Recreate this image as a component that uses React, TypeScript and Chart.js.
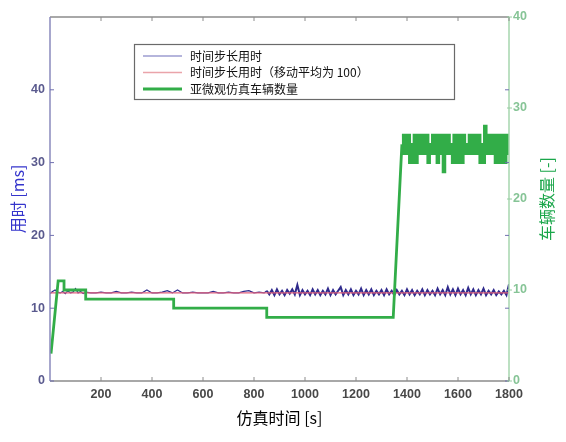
import React, { useEffect, useRef } from "react";
import { Chart, registerables } from "chart.js";

Chart.register(...registerables);

// ---- data ----
const xTickLabels = [200, 400, 600, 800, 1000, 1200, 1400, 1600, 1800];
const leftTickLabels = [0, 10, 20, 30, 40];
const rightTickLabels = [0, 10, 20, 30, 40];

const legendLabels = ["时间步长用时", "时间步长用时（移动平均为 100）", "亚微观仿真车辆数量"];

// vehicle count, piecewise part (s, count)
const vehicleTimes = [4, 32, 55, 55, 140, 140, 485, 485, 850, 850, 1346, 1380];
const vehicleCounts = [3, 11, 11, 10, 10, 9, 9, 8, 8, 7, 7, 26];

// vehicle count, fluctuating part (stepped)
const vehicleNoiseTimes = [
  1380, 1386, 1392, 1398, 1404, 1410, 1416, 1422, 1428, 1434, 1440, 1446, 1452, 1458, 1464, 1470,
  1476, 1482, 1488, 1494, 1500, 1506, 1512, 1518, 1524, 1530, 1536, 1542, 1548, 1554, 1560, 1566,
  1572, 1578, 1584, 1590, 1596, 1602, 1608, 1614, 1620, 1626, 1632, 1638, 1644, 1650, 1656, 1662,
  1668, 1674, 1680, 1686, 1692, 1698, 1704, 1710, 1716, 1722, 1728, 1734, 1740, 1746, 1752, 1758,
  1764, 1770, 1776, 1782, 1788, 1794, 1800,
];
const vehicleNoiseCounts = [
  27, 25, 27, 25, 27, 24, 26, 24, 27, 24, 27, 25, 27, 25, 27, 25,
  27, 24, 26, 25, 27, 25, 27, 24, 27, 25, 27, 23, 27, 25, 27, 25,
  26, 24, 27, 24, 27, 24, 27, 24, 27, 25, 26, 25, 27, 25, 27, 25,
  27, 25, 27, 24, 26, 24, 28, 25, 27, 25, 27, 25, 27, 24, 27, 24,
  27, 24, 27, 24, 27, 25, 27,
];

// time step duration (ms)
const stepTimeEarlyTimes = [0, 10, 20, 30, 40, 50, 60, 70, 80, 90, 100, 110, 120, 130, 140];
const stepTimeEarly = [12.0, 12.3, 12.5, 12.2, 12.1, 12.3, 12.0, 12.4, 12.1, 12.2, 12.7, 12.1, 12.3, 12.0, 12.2];

const stepTimeMidTimes = [
  160, 180, 200, 220, 240, 260, 280, 300, 320, 340, 360, 380, 400, 420, 440, 460, 480, 500,
  520, 540, 560, 580, 600, 620, 640, 660, 680, 700, 720, 740, 760, 780, 800, 820, 840,
];
const stepTimeMid = [
  12.1, 12.1, 12.2, 12.1, 12.1, 12.3, 12.1, 12.1, 12.2, 12.1, 12.1, 12.5, 12.1, 12.1, 12.2, 12.4, 12.1, 12.5,
  12.1, 12.1, 12.2, 12.1, 12.1, 12.1, 12.3, 12.1, 12.1, 12.2, 12.1, 12.1, 12.3, 12.4, 12.1, 12.2, 12.1,
];

const stepTimeLateTimes = [
  850, 860, 870, 880, 890, 900, 910, 920, 930, 940, 950, 960, 970, 980, 990, 1000,
  1010, 1020, 1030, 1040, 1050, 1060, 1070, 1080, 1090, 1100, 1110, 1120, 1130, 1140, 1150, 1160,
  1170, 1180, 1190, 1200, 1210, 1220, 1230, 1240, 1250, 1260, 1270, 1280, 1290, 1300, 1310, 1320,
  1330, 1340, 1350, 1360, 1370, 1380, 1390, 1400, 1410, 1420, 1430, 1440, 1450, 1460, 1470, 1480,
  1490, 1500, 1510, 1520, 1530, 1540, 1550, 1560, 1570, 1580, 1590, 1600, 1610, 1620, 1630, 1640,
  1650, 1660, 1670, 1680, 1690, 1700, 1710, 1720, 1730, 1740, 1750, 1760, 1770, 1780, 1790, 1800,
];
const stepTimeLate = [
  12.4, 11.9, 12.5, 11.8, 12.6, 11.9, 12.4, 11.8, 12.5, 12.0, 12.6, 11.9, 13.2, 11.8, 12.5, 11.9,
  12.4, 11.8, 12.6, 11.9, 12.5, 11.8, 12.4, 11.9, 12.7, 11.8, 12.5, 11.9, 12.4, 12.9, 11.8, 12.5,
  11.9, 12.6, 11.8, 12.4, 11.9, 12.7, 11.8, 12.5, 11.9, 12.6, 11.8, 12.4, 11.9, 12.5, 11.8, 12.6,
  11.9, 12.4, 11.8, 12.5, 11.9, 12.4, 11.8, 12.6, 11.9, 12.5, 11.8, 12.4, 11.9, 12.6, 11.8, 12.5,
  11.9, 12.4, 11.8, 12.7, 11.9, 12.5, 11.8, 12.9, 11.9, 12.6, 11.8, 12.7, 11.9, 12.5, 11.8, 12.8,
  11.9, 12.6, 11.8, 12.5, 11.9, 12.7, 11.8, 12.4, 11.9, 12.5, 11.8, 12.3, 11.9, 12.4, 11.8, 13.3,
];

// moving average (ms)
const movingAvgTimes = [0, 300, 600, 900, 1200, 1500, 1800];
const movingAvg = [12.1, 12.1, 12.1, 12.1, 12.1, 12.1, 12.1];

const COLORS = {
  blue: "#2f2a8c",
  red: "#e2627e",
  green: "#32ad48",
  legendBlue: "#9c9cd0",
  legendRed: "#eaa4aa",
};

const zip = (xs: number[], ys: number[]) => xs.map((x, i) => ({ x, y: ys[i] }));

const overlayPlugin = {
  id: "overlay",
  afterDraw(chart: any) {
    const { ctx, chartArea } = chart;
    const { left, right, top, bottom } = chartArea;
    const xs = chart.scales.x;
    const ys = chart.scales.y;
    const y1 = chart.scales.y1;
    ctx.save();
    // frame
    ctx.lineWidth = 1.5;
    ctx.strokeStyle = "#8c8c8c";
    ctx.beginPath();
    ctx.moveTo(left, top);
    ctx.lineTo(right, top);
    ctx.moveTo(left, bottom);
    ctx.lineTo(right, bottom);
    ctx.stroke();
    ctx.strokeStyle = "#8a8abc";
    ctx.beginPath();
    ctx.moveTo(left, top);
    ctx.lineTo(left, bottom);
    ctx.stroke();
    ctx.strokeStyle = "#a6d6ae";
    ctx.beginPath();
    ctx.moveTo(right, top);
    ctx.lineTo(right, bottom);
    ctx.stroke();

    // x ticks (inward, top & bottom)
    ctx.lineWidth = 1;
    ctx.strokeStyle = "#8c8c8c";
    ctx.beginPath();
    xTickLabels.forEach((v) => {
      const px = xs.getPixelForValue(v);
      ctx.moveTo(px, bottom);
      ctx.lineTo(px, bottom - 4);
      ctx.moveTo(px, top);
      ctx.lineTo(px, top + 4);
    });
    ctx.stroke();
    // left y ticks
    ctx.strokeStyle = "#7070b0";
    ctx.beginPath();
    leftTickLabels.forEach((v) => {
      const py = ys.getPixelForValue(v);
      ctx.moveTo(left, py);
      ctx.lineTo(left + 4, py);
      ctx.moveTo(right, py);
      ctx.lineTo(right - 4, py);
    });
    ctx.stroke();
    // right y ticks
    ctx.strokeStyle = "#96cca0";
    ctx.beginPath();
    rightTickLabels.forEach((v) => {
      const py = y1.getPixelForValue(v);
      ctx.moveTo(right - 2, py);
      ctx.lineTo(right + 3, py);
    });
    ctx.stroke();

    // right axis title
    ctx.save();
    ctx.translate(547, (top + bottom) / 2);
    ctx.rotate(-Math.PI / 2);
    ctx.font = "16px 'Noto Sans CJK SC', sans-serif";
    ctx.fillStyle = "#1aa64a";
    ctx.textAlign = "center";
    ctx.textBaseline = "middle";
    ctx.fillText("车辆数量 [-]", 0, 0);
    ctx.restore();

    // legend box
    const bx = 134.5, by = 44.5, bw = 320, bh = 55;
    ctx.fillStyle = "#ffffff";
    ctx.fillRect(bx, by, bw, bh);
    ctx.strokeStyle = "#6a6a6a";
    ctx.lineWidth = 1.2;
    ctx.strokeRect(bx, by, bw, bh);
    const rows = [
      { color: COLORS.legendBlue, w: 1.5 },
      { color: COLORS.legendRed, w: 1.5 },
      { color: COLORS.green, w: 3 },
    ];
    ctx.font = "12px 'Noto Sans CJK SC', sans-serif";
    ctx.textAlign = "left";
    ctx.textBaseline = "middle";
    rows.forEach((r, i) => {
      const ry = 56 + i * 16.5;
      ctx.strokeStyle = r.color;
      ctx.lineWidth = r.w;
      ctx.beginPath();
      ctx.moveTo(143, ry);
      ctx.lineTo(182, ry);
      ctx.stroke();
      ctx.fillStyle = "#111111";
      ctx.fillText(legendLabels[i], 190, ry);
    });
    ctx.restore();
  },
};

export default function App() {
  const canvasRef = useRef<HTMLCanvasElement | null>(null);

  useEffect(() => {
    document.body.style.margin = "0";
    const canvas = canvasRef.current;
    if (!canvas) return;
    const tickFont = { family: "'Liberation Sans', Arial, sans-serif", size: 12.5, weight: "bold" as const };
    const chart = new Chart(canvas, {
      type: "line",
      data: {
        datasets: [
          {
            label: legendLabels[2],
            data: zip(vehicleTimes, vehicleCounts),
            yAxisID: "y1",
            borderColor: COLORS.green,
            borderWidth: 2.8,
            pointRadius: 0,
          },
          {
            label: legendLabels[2] + " 2",
            data: zip(vehicleNoiseTimes, vehicleNoiseCounts),
            yAxisID: "y1",
            borderColor: COLORS.green,
            borderWidth: 3,
            pointRadius: 0,
            stepped: true,
          },
          {
            label: legendLabels[1],
            data: zip(movingAvgTimes, movingAvg),
            yAxisID: "y",
            borderColor: COLORS.red,
            borderWidth: 1.3,
            pointRadius: 0,
          },
          {
            label: legendLabels[0],
            data: [
              ...zip(stepTimeEarlyTimes, stepTimeEarly),
              ...zip(stepTimeMidTimes, stepTimeMid),
              ...zip(stepTimeLateTimes, stepTimeLate),
            ],
            yAxisID: "y",
            borderColor: COLORS.blue,
            borderWidth: 1.2,
            segment: {
              borderWidth: (c: any) => (c.p0.parsed.x >= 845 ? 2 : 1.2),
            },
            pointRadius: 0,
          },
        ],
      },
      options: {
        animation: false,
        responsive: false,
        layout: { padding: { top: 17, left: 0, right: 0, bottom: 0 } },
        plugins: {
          legend: { display: false },
          tooltip: { enabled: false },
        },
        elements: { line: { tension: 0 } },
        scales: {
          x: {
            type: "linear",
            min: 0,
            max: 1800,
            grid: { display: false, drawTicks: false },
            border: { display: false },
            ticks: {
              stepSize: 200,
              autoSkip: false,
              maxRotation: 0,
              padding: 6,
              color: "#474747",
              font: tickFont,
              callback: (v: any) => (v === 0 ? "" : String(v)),
            },
            title: {
              display: true,
              text: "仿真时间 [s]",
              color: "#000000",
              font: { family: "'Noto Sans CJK SC', sans-serif", size: 16 },
              padding: { top: 0, bottom: 14 },
            },
            afterFit: (s: any) => {
              s.height = 61;
            },
          },
          y: {
            type: "linear",
            position: "left",
            min: 0,
            max: 50,
            grid: { display: false, drawTicks: false },
            border: { display: false },
            ticks: {
              stepSize: 10,
              padding: 5,
              color: "#5a5a8e",
              font: tickFont,
              callback: (v: any) => (v === 50 ? "" : String(v)),
            },
            title: {
              display: true,
              text: "用时 [ms]",
              color: "#3434cc",
              font: { family: "'Noto Sans CJK SC', sans-serif", size: 16 },
              padding: { top: 8, bottom: 0 },
            },
            afterFit: (s: any) => {
              s.width = 50;
            },
          },
          y1: {
            type: "linear",
            position: "right",
            min: 0,
            max: 40,
            grid: { display: false, drawTicks: false },
            border: { display: false },
            ticks: {
              stepSize: 10,
              padding: 4,
              color: "#86c496",
              font: tickFont,
            },
            afterFit: (s: any) => {
              s.width = 57;
            },
          },
        },
      },
      plugins: [overlayPlugin],
    });
    return () => chart.destroy();
  }, []);

  return (
    <div style={{ width: 566, height: 442, position: "relative", background: "#ffffff" }}>
      <canvas ref={canvasRef} width={566} height={442} style={{ display: "block" }} />
    </div>
  );
}
